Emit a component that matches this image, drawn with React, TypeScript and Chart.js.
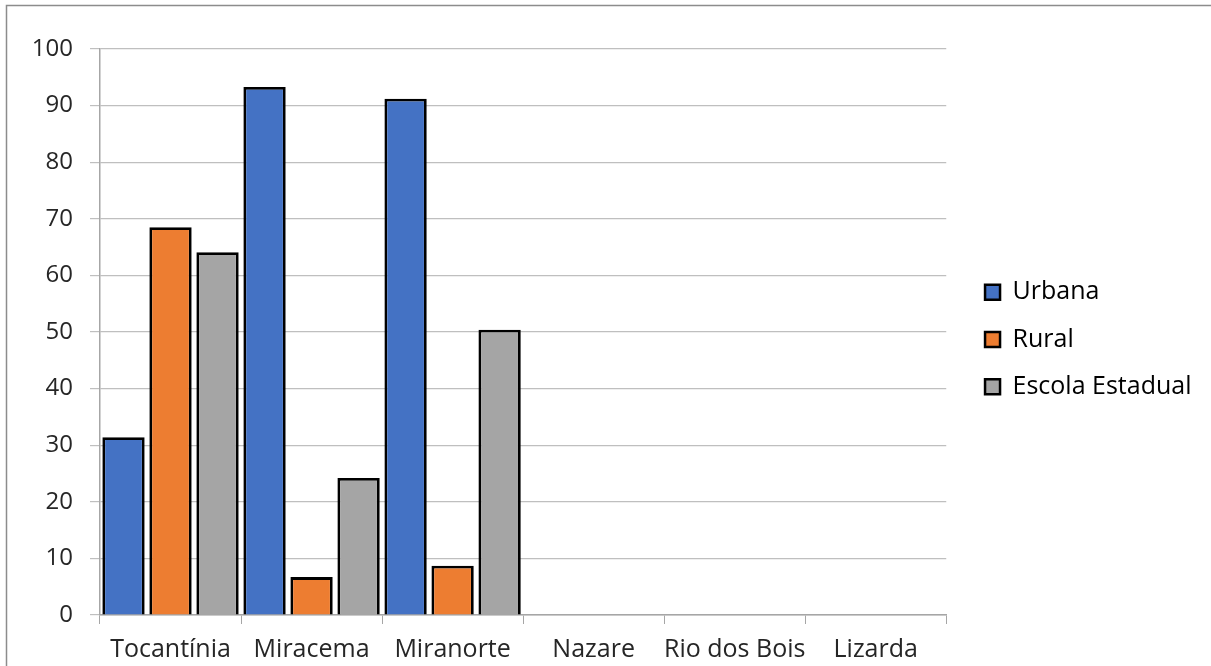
import React, { useEffect, useRef } from "react";
import { Chart, registerables } from "chart.js";

Chart.register(...registerables);

const categories = ["Tocantínia", "Miracema", "Miranorte", "Nazare", "Rio dos Bois", "Lizarda"];
const urbana = [31.4, 93.3, 91.2, 0, 0, 0];
const rural = [68.5, 6.7, 8.7, 0, 0, 0];
const escolaEstadual = [64.1, 24.2, 50.4, 0, 0, 0];
const seriesNames = ["Urbana", "Rural", "Escola Estadual"];
const seriesColors = ["#4472C4", "#ED7D31", "#A5A5A5"];

const FONT = "'Open Sans', sans-serif";

const frame = {
  id: "frame",
  beforeDraw(chart: any) {
    const ctx = chart.ctx;
    ctx.save();
    ctx.fillStyle = "#ffffff";
    ctx.fillRect(0, 0, chart.width, chart.height);
    ctx.strokeStyle = "#8c8c8c";
    ctx.lineWidth = 1.5;
    ctx.beginPath();
    ctx.moveTo(6.5, chart.height);
    ctx.lineTo(6.5, 5.5);
    ctx.lineTo(chart.width, 5.5);
    ctx.stroke();
    ctx.restore();
  },
};

const legendShift = {
  id: "legendShift",
  afterLayout(chart: any) {
    if (chart.legend) {
      chart.legend.left += 16.5;
      chart.legend.right += 16.5;
      chart.legend.top -= 18;
      chart.legend.bottom -= 18;
    }
  },
};

export default function App() {
  const ref = useRef<HTMLCanvasElement | null>(null);
  useEffect(() => {
    document.body.style.margin = "0";
    const data = [urbana, rural, escolaEstadual];
    const chart = new Chart(ref.current as HTMLCanvasElement, {
      type: "bar",
      data: {
        labels: categories,
        datasets: seriesNames.map((name, i) => ({
          label: name,
          data: data[i],
          backgroundColor: seriesColors[i],
          borderColor: "#000000",
          borderWidth: 2.8,
          borderSkipped: "bottom",
          categoryPercentage: 1.0,
          barPercentage: 0.9,
        })),
      },
      options: {
        animation: false,
        responsive: false,
        maintainAspectRatio: false,
        layout: { padding: { left: 0, top: 49, right: 26, bottom: 0 } },
        plugins: {
          title: { display: false },
          tooltip: { enabled: false },
          legend: {
            position: "right",
            align: "center",
            labels: {
              boxWidth: 15,
              boxHeight: 15,
              padding: 22.3,
              color: "#262626",
              font: { family: FONT, size: 25 },
              generateLabels: (c: any) =>
                c.data.datasets.map((d: any, i: number) => ({
                  text: d.label,
                  fillStyle: d.backgroundColor,
                  strokeStyle: "#000000",
                  lineWidth: 2.5,
                  hidden: false,
                  datasetIndex: i,
                })),
            },
          },
        },
        scales: {
          x: {
            afterFit: (scale: any) => {
              scale.height = 51;
            },
            grid: {
              display: true,
              drawOnChartArea: false,
              drawTicks: true,
              tickLength: 9,
              color: "#a6a6a6",
              offset: true,
            },
            border: { display: true, color: "#a6a6a6", width: 1.5 },
            ticks: {
              color: "#262626",
              font: { family: FONT, size: 25 },
              padding: 11,
              maxRotation: 0,
              autoSkip: false,
            },
          },
          y: {
            min: 0,
            max: 100,
            afterFit: (scale: any) => {
              scale.width = 100;
            },
            grid: {
              color: "#bfbfbf",
              lineWidth: 1.2,
              tickLength: 10,
            },
            border: { display: true, color: "#a6a6a6", width: 1.5 },
            ticks: {
              stepSize: 10,
              color: "#262626",
              font: { family: FONT, size: 24 },
              padding: 17,
            },
          },
        },
      },
      plugins: [frame, legendShift],
    });
    return () => chart.destroy();
  }, []);
  return (
    <div style={{ width: 1211, height: 666 }}>
      <canvas ref={ref} width={1211} height={666} style={{ display: "block" }} />
    </div>
  );
}
